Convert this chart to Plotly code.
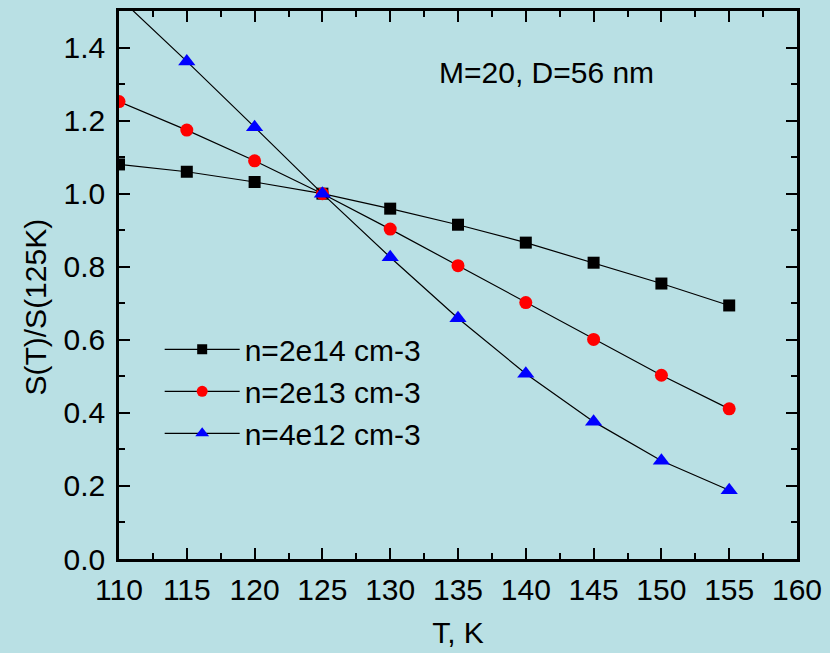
import plotly.graph_objects as go

# Temperature points (K)
temps = [110, 115, 120, 125, 130, 135, 140, 145, 150, 155]

# Normalized S(T)/S(125K) for three carrier densities
s_2e14 = [1.080, 1.060, 1.032, 1.000, 0.959, 0.915, 0.866, 0.811, 0.754, 0.694]
s_2e13 = [1.252, 1.174, 1.090, 1.000, 0.903, 0.803, 0.702, 0.601, 0.503, 0.411]
s_4e12 = [1.537, 1.362, 1.182, 1.000, 0.826, 0.659, 0.507, 0.376, 0.269, 0.188]

series_names = ["n=2e14 cm-3", "n=2e13 cm-3", "n=4e12 cm-3"]

x_ticks = [110, 115, 120, 125, 130, 135, 140, 145, 150, 155, 160]
y_ticks = [0.0, 0.2, 0.4, 0.6, 0.8, 1.0, 1.2, 1.4]

BG = "rgb(185,224,228)"
FONT = "Liberation Sans, Arial, sans-serif"
FS = 30

fig = go.Figure()

styles = [
    dict(symbol="square", color="black", size=12, legend_size=10),
    dict(symbol="circle", color="red", size=13, legend_size=11),
    dict(symbol="triangle-up", color="blue", size=15, legend_size=12),
]

for name, vals, st in zip(series_names, [s_2e14, s_2e13, s_4e12], styles):
    # data curve
    fig.add_trace(go.Scatter(
        x=temps, y=vals, name=name, mode="lines+markers",
        showlegend=False,
        line=dict(color="black", width=1.2),
        marker=dict(symbol=st["symbol"], color=st["color"], size=st["size"],
                    line=dict(width=0)),
    ))
    # legend entry with a smaller marker
    fig.add_trace(go.Scatter(
        x=[None], y=[None], name=name, mode="lines+markers",
        showlegend=True,
        line=dict(color="black", width=1.2),
        marker=dict(symbol=st["symbol"], color=st["color"], size=st["legend_size"],
                    line=dict(width=0)),
    ))

axis_common = dict(
    showline=True, linecolor="black", linewidth=2.5, mirror="allticks",
    ticks="inside", ticklen=11, tickwidth=2, tickcolor="black",
    showgrid=False, zeroline=False,
    tickfont=dict(family=FONT, size=FS, color="black"),
)

fig.update_xaxes(
    range=[110, 160], tickvals=x_ticks, ticktext=[str(v) for v in x_ticks],
    minor=dict(ticks="inside", ticklen=6, tickwidth=2, tickcolor="black", dtick=2.5, tick0=110),
    ticklabelstandoff=2,
    title=dict(text="T, K", font=dict(family=FONT, size=FS, color="black"), standoff=18),
    **axis_common,
)
fig.update_yaxes(
    range=[0, 1.5], tickvals=y_ticks, ticktext=[f"{v:.1f}" for v in y_ticks],
    minor=dict(ticks="inside", ticklen=6, tickwidth=2, tickcolor="black", dtick=0.1, tick0=0),
    ticklabelstandoff=5,
    **axis_common,
)

fig.add_annotation(
    text="S(T)/S(125K)", textangle=-90, xref="paper", yref="paper",
    x=-0.123, y=0.46, xanchor="center", yanchor="middle", showarrow=False,
    font=dict(family=FONT, size=FS, color="black"),
)
fig.add_annotation(
    text="M=20, D=56 nm", xref="x", yref="y",
    x=141.5, y=1.332, xanchor="center", yanchor="middle", showarrow=False,
    font=dict(family=FONT, size=FS, color="black"),
)

fig.update_layout(
    width=830, height=653,
    margin=dict(l=119, r=28, t=8, b=94),
    paper_bgcolor=BG, plot_bgcolor=BG,
    showlegend=True,
    legend=dict(
        x=0.06, y=0.43, xanchor="left", yanchor="top",
        bgcolor="rgba(0,0,0,0)", borderwidth=0,
        font=dict(family=FONT, size=FS, color="black"),
        itemwidth=75,
    ),
)

fig.write_html("out.html")
